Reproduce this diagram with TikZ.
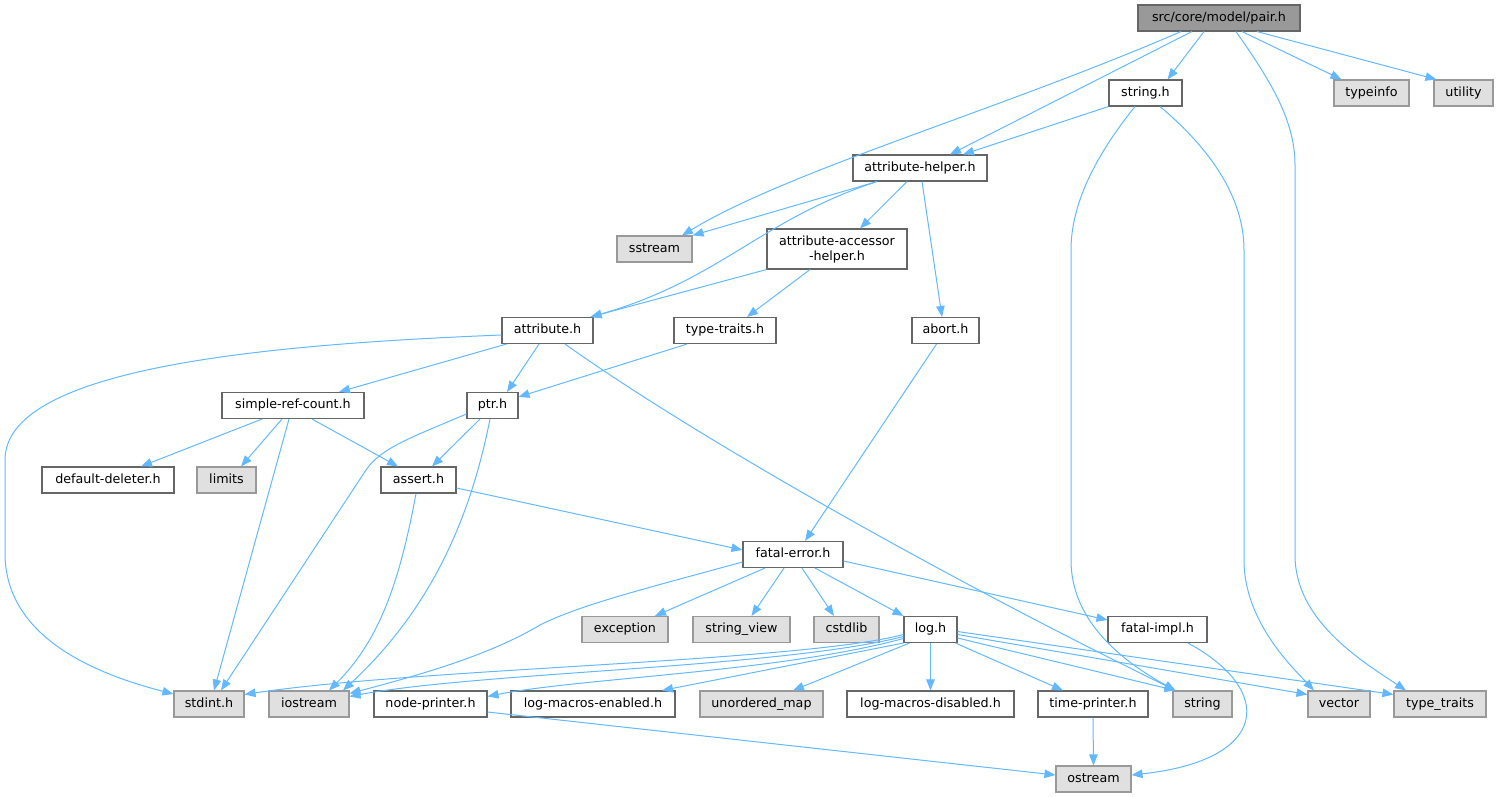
\documentclass[tikz,border=0pt]{standalone}
\usepackage{fontspec}
\setmainfont{DejaVu Sans}
\usetikzlibrary{arrows.meta}
\definecolor{cInt}{HTML}{666666}
\definecolor{cExt}{HTML}{999999}
\definecolor{cExtFill}{HTML}{E0E0E0}
\definecolor{cRoot}{HTML}{999999}
\definecolor{cEdge}{HTML}{63B8FF}
\tikzset{
  box/.style={font=\fontsize{12.7}{15}\selectfont, inner sep=0pt, minimum height=26pt, text height=9.3pt, text depth=3pt, line width=1.1pt},
  int/.style={box, draw=cInt, fill=white},
  ext/.style={box, draw=cExt, fill=cExtFill},
  root/.style={box, draw=cInt, fill=cRoot},
  conn/.style={draw=cEdge, line width=1pt, -{Triangle[length=11pt,width=8.5pt]}},
}
\begin{document}
\begin{tikzpicture}[x=1pt,y=-1pt]
\useasboundingbox (0,0) rectangle (1499,797);
% row 0
\node[root, minimum width=162pt] (pair) at (1219,18) {src/core/model/pair.h};
% row 1
\node[int, minimum width=73pt] (strh) at (1145.5,93) {string.h};
\node[ext, minimum width=75pt] (typeinfo) at (1371.5,93) {typeinfo};
\node[ext, minimum width=59pt] (utility) at (1463.5,93) {utility};
% row 2
\node[int, minimum width=134pt] (ah) at (920,168) {attribute-helper.h};
% row 3
\node[ext, minimum width=75pt] (sstream) at (654.5,249) {sstream};
\node[int, minimum width=140pt, minimum height=40pt, align=center, text height=, text depth=] (acc) at (837,249) {attribute-accessor\\-helper.h};
% row 4
\node[int, minimum width=91pt] (attr) at (547.5,330.5) {attribute.h};
\node[int, minimum width=102pt] (tt) at (725,330.5) {type-traits.h};
\node[int, minimum width=67pt] (abort) at (945.5,330.5) {abort.h};
% row 5
\node[int, minimum width=142pt] (src) at (293,405.5) {simple-ref-count.h};
\node[int, minimum width=51pt] (ptr) at (492.5,405.5) {ptr.h};
% row 6
\node[int, minimum width=132pt] (dd) at (108,480) {default-deleter.h};
\node[ext, minimum width=59pt] (limits) at (226.5,480) {limits};
\node[int, minimum width=75pt] (assert) at (418.5,480) {assert.h};
% row 7
\node[int, minimum width=100pt] (fe) at (793,554.5) {fatal-error.h};
% row 8
\node[ext, minimum width=86pt] (exc) at (625,629.5) {exception};
\node[ext, minimum width=97pt] (sv) at (741.5,629.5) {string\_view};
\node[ext, minimum width=65pt] (cstd) at (846.5,629.5) {cstdlib};
\node[int, minimum width=53pt] (log) at (930.5,629.5) {log.h};
\node[int, minimum width=99pt] (fi) at (1157.5,629.5) {fatal-impl.h};
% row 9
\node[ext, minimum width=70pt] (stdint) at (209,704) {stdint.h};
\node[ext, minimum width=80pt] (iostream) at (309,704) {iostream};
\node[int, minimum width=113pt] (np) at (430.5,704) {node-printer.h};
\node[int, minimum width=164pt] (lme) at (593,704) {log-macros-enabled.h};
\node[ext, minimum width=123pt] (um) at (761.5,704) {unordered\_map};
\node[int, minimum width=167pt] (lmd) at (930.5,704) {log-macros-disabled.h};
\node[int, minimum width=110pt] (tp) at (1093,704) {time-printer.h};
\node[ext, minimum width=59pt] (string) at (1202.5,704) {string};
\node[ext, minimum width=62pt] (vector) at (1339,704) {vector};
\node[ext, minimum width=92pt] (tt2) at (1440,704) {type\_traits};
% row 10
\node[ext, minimum width=75pt] (ostream) at (1093.5,779) {ostream};

% edges from pair.h
\draw[conn] ([xshift=-38pt]pair.south) .. controls (1000,110) and (790,170) .. ([xshift=27.5pt]sstream.north);
\draw[conn] ([xshift=-27pt]pair.south) -- ([xshift=30pt]ah.north);
\draw[conn] ([xshift=-15pt]pair.south) -- ([xshift=22pt]strh.north);
\draw[conn] ([xshift=17pt]pair.south) .. controls (1270,80) and (1295,120) .. (1295,165) -- (1295,555) .. controls (1295,620) and (1360,660) .. ([xshift=-34pt]tt2.north);
\draw[conn] ([xshift=23pt]pair.south) -- ([xshift=-30pt]typeinfo.north);
\draw[conn] ([xshift=38pt]pair.south) -- ([xshift=3pt]utility.north west);
% string.h
\draw[conn] (strh.south west) -- ([xshift=43pt]ah.north);
\draw[conn] ([xshift=-10.5pt]strh.south) .. controls (1100,150) and (1071,200) .. (1071,250) -- (1071,560) .. controls (1071,620) and (1120,660) .. ([xshift=3pt]string.north west);
\draw[conn] ([xshift=14.5pt]strh.south) .. controls (1200,140) and (1244,190) .. (1244,250) -- (1244,560) .. controls (1244,620) and (1290,665) .. ([xshift=-25pt]vector.north);
% attribute-helper.h
\draw[conn] ([xshift=-43pt]ah.south) -- (sstream.north east);
\draw[conn] ([xshift=-43pt]ah.south) .. controls (760,220) and (720,280) .. ([xshift=-3pt]attr.north east);
\draw[conn] ([xshift=-13pt]ah.south) -- ([xshift=23pt]acc.north);
\draw[conn] ([xshift=2pt]ah.south) -- ([xshift=-3.5pt]abort.north);
% accessor
\draw[conn] (acc.south west) -- ([xshift=-3pt]attr.north east);
\draw[conn] ([xshift=-27pt]acc.south) -- ([xshift=22pt]tt.north);
% abort
\draw[conn] ([xshift=-9pt]abort.south) -- ([xshift=12pt]fe.north);
% attribute.h
\draw[conn] ([yshift=-4.5pt]attr.west) .. controls (250,345) and (5,370) .. (5,460) -- (5,553) .. controls (5,630) and (80,670) .. ([yshift=10pt]stdint.west);
\draw[conn] ([xshift=5pt]attr.south west) -- ([xshift=46pt]src.north);
\draw[conn] ([xshift=-8.5pt]attr.south) -- ([xshift=14.5pt]ptr.north);
\draw[conn] ([xshift=17.5pt]attr.south) .. controls (700,440) and (950,580) .. ([xshift=3pt]string.north west);
% type-traits.h
\draw[conn] ([xshift=-38pt]tt.south) -- ([yshift=-5pt]ptr.north east);
% simple-ref-count.h
\draw[conn] ([xshift=-31pt]src.south) -- ([xshift=33pt]dd.north);
\draw[conn] ([xshift=-11pt]src.south) -- ([xshift=14.5pt]limits.north);
\draw[conn] ([xshift=-4pt]src.south) -- ([xshift=5pt]stdint.north);
\draw[conn] ([xshift=19pt]src.south) -- ([xshift=-20.5pt]assert.north);
% ptr.h
\draw[conn] ([yshift=-8.5pt]ptr.west) .. controls (410,438) and (381,448) .. (366,470) -- ([xshift=12pt]stdint.north);
\draw[conn] ([xshift=-12.5pt]ptr.south) -- ([xshift=13.5pt]assert.north);
\draw[conn] ([xshift=-2.5pt]ptr.south) .. controls (470,520) and (430,610) .. ([xshift=34pt]iostream.north);
% assert.h
\draw[conn] ([xshift=-2.5pt]assert.south) .. controls (400,580) and (380,640) .. ([xshift=20pt]iostream.north);
\draw[conn] ([yshift=-8pt]assert.east) -- ([yshift=4.5pt]fe.west);
% fatal-error.h
\draw[conn] ([yshift=-7.5pt]fe.west) .. controls (640,590) and (580,605) .. (540,625) .. controls (490,655) and (420,675) .. ([yshift=-3pt]iostream.north east);
\draw[conn] ([xshift=-28pt]fe.south) -- ([xshift=30pt]exc.north);
\draw[conn] ([xshift=-9pt]fe.south) -- ([xshift=10pt]sv.north);
\draw[conn] ([xshift=9pt]fe.south) -- ([xshift=-12.5pt]cstd.north);
\draw[conn] ([xshift=22pt]fe.south) -- (log.north west);
\draw[conn] ([yshift=-6.5pt]fe.east) -- ([yshift=-4pt]fi.north west);
% log.h
\draw[conn] ([yshift=-5pt]log.west) .. controls (800,662) and (420,668) .. ([yshift=-4pt]stdint.north east);
\draw[conn] ([yshift=-7pt]log.west) .. controls (780,668) and (480,672) .. ([yshift=-6pt]iostream.north east);
\draw[conn] ([yshift=-9pt]log.west) .. controls (780,672) and (580,678) .. ([yshift=-6pt]np.north east);
\draw[conn] (log.south west) -- ([xshift=69pt]lme.north);
\draw[conn] ([xshift=6pt]log.south west) -- ([xshift=31.5pt]um.north);
\draw[conn] (log.south) -- (lmd.north);
\draw[conn] ([xshift=-2pt]log.south east) -- ([xshift=-30pt]tp.north);
\draw[conn] ([yshift=-8.5pt]log.east) -- ([xshift=3pt]string.north west);
\draw[conn] ([yshift=-5pt]log.east) -- ([yshift=-4pt]vector.north west);
\draw[conn] ([yshift=-2pt]log.east) -- ([yshift=-4pt]tt2.north west);
% fatal-impl.h, node-printer.h, time-printer.h
\draw[conn] ([xshift=30.5pt]fi.south) .. controls (1275,690) and (1270,760) .. ([yshift=4pt]ostream.east);
\draw[conn] ([yshift=-8pt]np.east) -- ([yshift=4pt]ostream.west);
\draw[conn] (tp.south) -- (ostream.north);
\end{tikzpicture}
\end{document}
